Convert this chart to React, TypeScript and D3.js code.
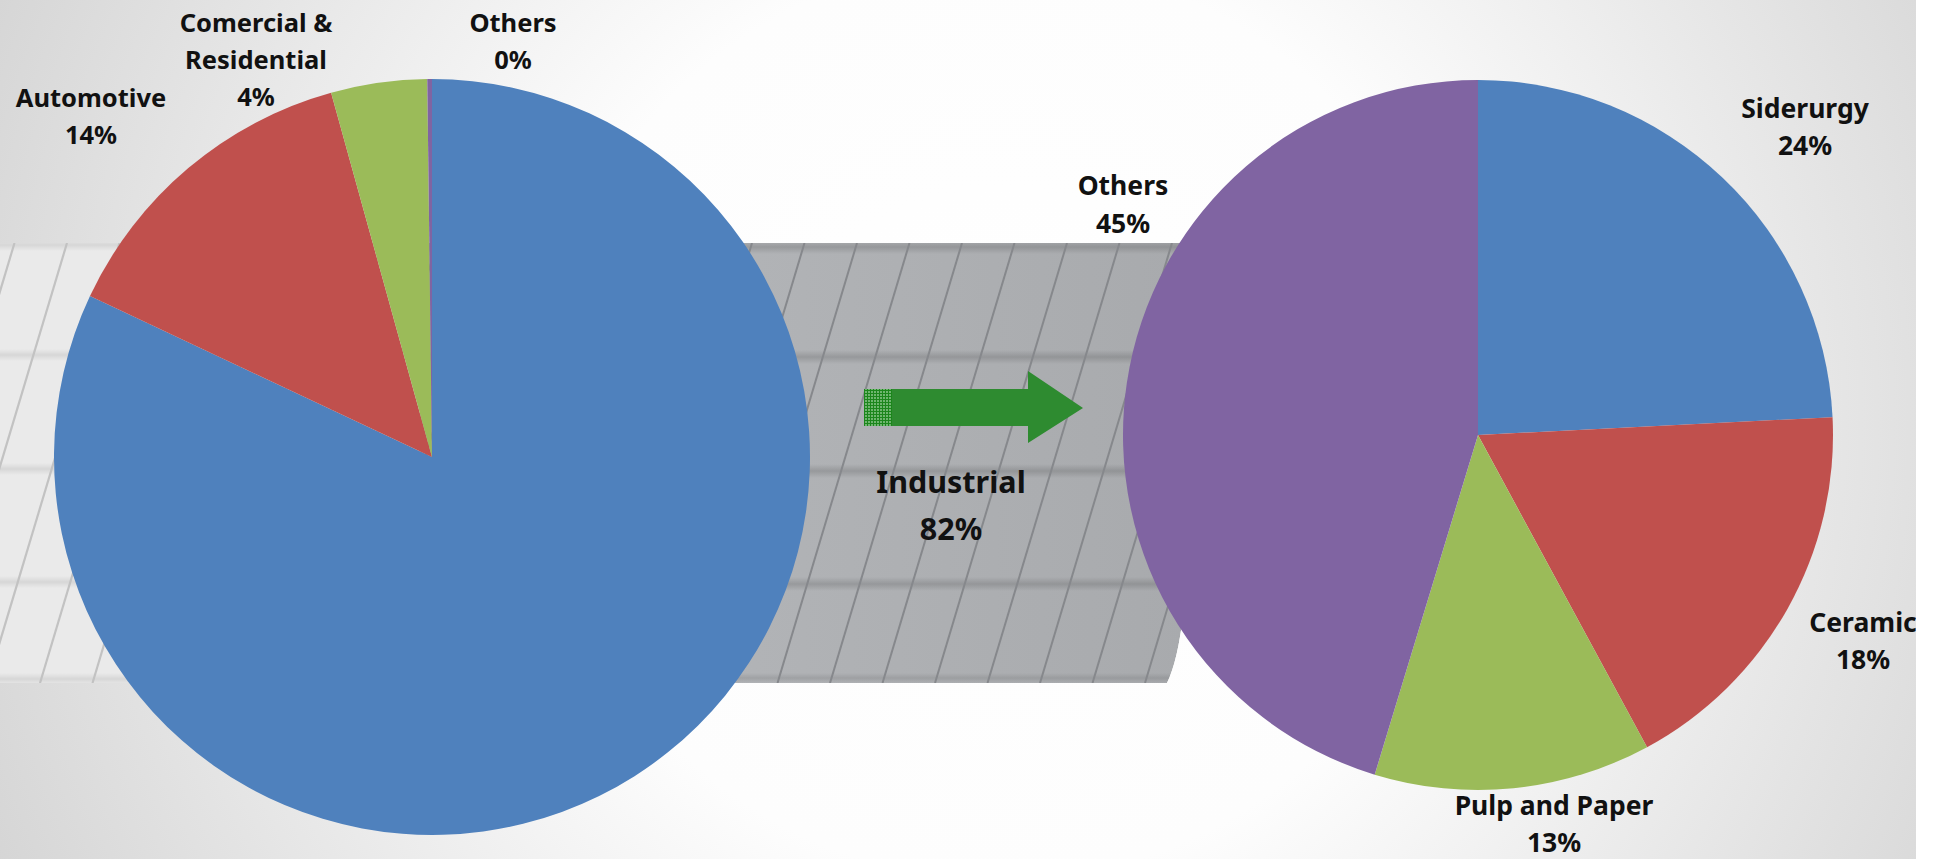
import React from "react";
import * as d3 from "d3";

// ---------- data ----------
const leftCategories = ["Industrial", "Automotive", "Comercial &\nResidential", "Others"];
const leftValues = [82, 13.7, 4.1, 0.2];
const rightCategories = ["Siderurgy", "Ceramic", "Pulp and Paper", "Others"];
const rightValues = [24.2, 17.9, 12.6, 45.3];
const sliceColors = ["#4F81BD", "#C0504D", "#9BBB59", "#8064A2"];

// ---------- layout ----------
const W = 1939;
const H = 859;
const leftPie = { cx: 432, cy: 457, r: 378 };
const rightPie = { cx: 1478, cy: 435, r: 355 };
// label anchors: [centerX, firstBaseline, fontSize, lineHeight]
const leftLabelPos = [
  [951, 493, 30.5, 47],
  [91, 107, 25.5, 37],
  [256, 32, 25.5, 37],
  [513, 32, 25.5, 37],
];
const rightLabelPos = [
  [1805, 118, 26.5, 37],
  [1863, 632, 26.5, 37],
  [1554, 815, 26.5, 37],
  [1123, 195, 26.5, 38],
];
const band = { top: 243, bottom: 683 };

function PieGroup({ values, cfg }: { values: number[]; cfg: { cx: number; cy: number; r: number } }) {
  const pie = d3.pie<number>().sort(null).startAngle(0).endAngle(2 * Math.PI)(values);
  const arc = d3.arc<d3.PieArcDatum<number>>().innerRadius(0).outerRadius(cfg.r);
  return (
    <g transform={`translate(${cfg.cx},${cfg.cy})`}>
      {pie.map((d, i) => (
        <path key={i} d={arc(d) || ""} fill={sliceColors[i]} />
      ))}
    </g>
  );
}

function Labels({ cats, vals, pos }: { cats: string[]; vals: number[]; pos: number[][] }) {
  return (
    <g fontFamily="'Noto Sans', 'Open Sans', sans-serif" fontWeight={700} fill="#111" textAnchor="middle">
      {cats.map((c, i) => {
        const lines = [...c.split("\n"), `${Math.round(vals[i])}%`];
        const [x, y, fs, lh] = pos[i];
        return (
          <text key={i} fontSize={fs}>
            {lines.map((l, j) => (
              <tspan key={j} x={x} y={y + j * lh}>
                {l}
              </tspan>
            ))}
          </text>
        );
      })}
    </g>
  );
}

export default function App() {
  React.useEffect(() => {
    document.body.style.margin = "0";
    document.body.style.overflow = "hidden";
  }, []);

  const stripeSpacing = 52.5;
  const slope = 0.3;
  const bandH = band.bottom - band.top;
  const stripeXs = d3.range(-300, 1300, stripeSpacing).map((v) => v + 2);
  const shadowYs = [band.top, 353, 467, 580];

  const darkBandPath = `M 420 ${band.top} L 1186 ${band.top} C 1184 400 1184 560 1183 615 Q 1178 660 1167 ${band.bottom} L 420 ${band.bottom} Z`;

  return (
    <svg
      width={W}
      height={H}
      viewBox={`0 0 ${W} ${H}`}
      style={{ position: "absolute", left: 0, top: 0, display: "block" }}
    >
      <defs>
        <radialGradient id="bg" gradientUnits="userSpaceOnUse" cx={1000} cy={420} r={1150}>
          <stop offset="0" stopColor="#ffffff" />
          <stop offset="0.4" stopColor="#fdfdfd" />
          <stop offset="1" stopColor="#d2d2d2" />
        </radialGradient>
        <linearGradient id="darkBand" x1="0" x2="1" y1="0" y2="0">
          <stop offset="0" stopColor="#b8babd" />
          <stop offset="1" stopColor="#a8aaad" />
        </linearGradient>
        <linearGradient id="shadowDark" x1="0" x2="0" y1="0" y2="1">
          <stop offset="0" stopColor="#000" stopOpacity="0" />
          <stop offset="0.5" stopColor="#000" stopOpacity="0.14" />
          <stop offset="1" stopColor="#000" stopOpacity="0" />
        </linearGradient>
        <clipPath id="clipDark">
          <path d={darkBandPath} />
        </clipPath>
        <clipPath id="clipLight">
          <rect x={0} y={band.top} width={440} height={bandH} />
        </clipPath>
        <pattern id="mesh" width="3" height="3" patternUnits="userSpaceOnUse">
          <rect width="3" height="3" fill="#6fb56f" />
          <path d="M0 0.5 H3 M0.5 0 V3" stroke="#1c861c" strokeWidth="1" />
        </pattern>
      </defs>

      {/* background */}
      <rect x={0} y={0} width={W} height={H} fill="url(#bg)" />

      {/* light band on the left */}
      <g clipPath="url(#clipLight)">
        <rect x={0} y={band.top} width={440} height={bandH} fill="#eaeaea" />
        {shadowYs.concat([band.bottom - 6]).map((y, i) => (
          <rect key={i} x={0} y={y - 4} width={440} height={12} fill="url(#shadowDark)" opacity={0.6} />
        ))}
        {stripeXs.map((x, i) => (
          <line
            key={i}
            x1={x - 160}
            y1={band.top}
            x2={x - 160 - slope * bandH}
            y2={band.bottom}
            stroke="#c2c2c2"
            strokeWidth={2.2}
          />
        ))}
      </g>

      {/* dark band in the middle */}
      <g clipPath="url(#clipDark)">
        <path d={darkBandPath} fill="url(#darkBand)" />
        {shadowYs.map((y, i) => (
          <rect key={i} x={400} y={y - 3} width={820} height={14} fill="url(#shadowDark)" />
        ))}
        <rect x={400} y={band.bottom - 10} width={820} height={10} fill="url(#shadowDark)" opacity={0.7} />
        {stripeXs.map((x, i) => (
          <line
            key={i}
            x1={x}
            y1={band.top}
            x2={x - slope * bandH}
            y2={band.bottom}
            stroke="#86888c"
            strokeWidth={2}
          />
        ))}
      </g>

      {/* pies */}
      <PieGroup values={leftValues} cfg={leftPie} />
      <PieGroup values={rightValues} cfg={rightPie} />

      {/* arrow */}
      <g>
        <rect x={864} y={389} width={28} height={37} fill="url(#mesh)" />
        <path d="M 892 389 L 1028 389 L 1028 371 L 1083 408 L 1028 443 L 1028 426 L 892 426 Z" fill="#2e8b30" />
      </g>

      {/* labels */}
      <Labels cats={leftCategories} vals={leftValues} pos={leftLabelPos} />
      <Labels cats={rightCategories} vals={rightValues} pos={rightLabelPos} />

      {/* white strip on the right edge */}
      <rect x={1916} y={0} width={W - 1916} height={H} fill="#ffffff" />
    </svg>
  );
}
